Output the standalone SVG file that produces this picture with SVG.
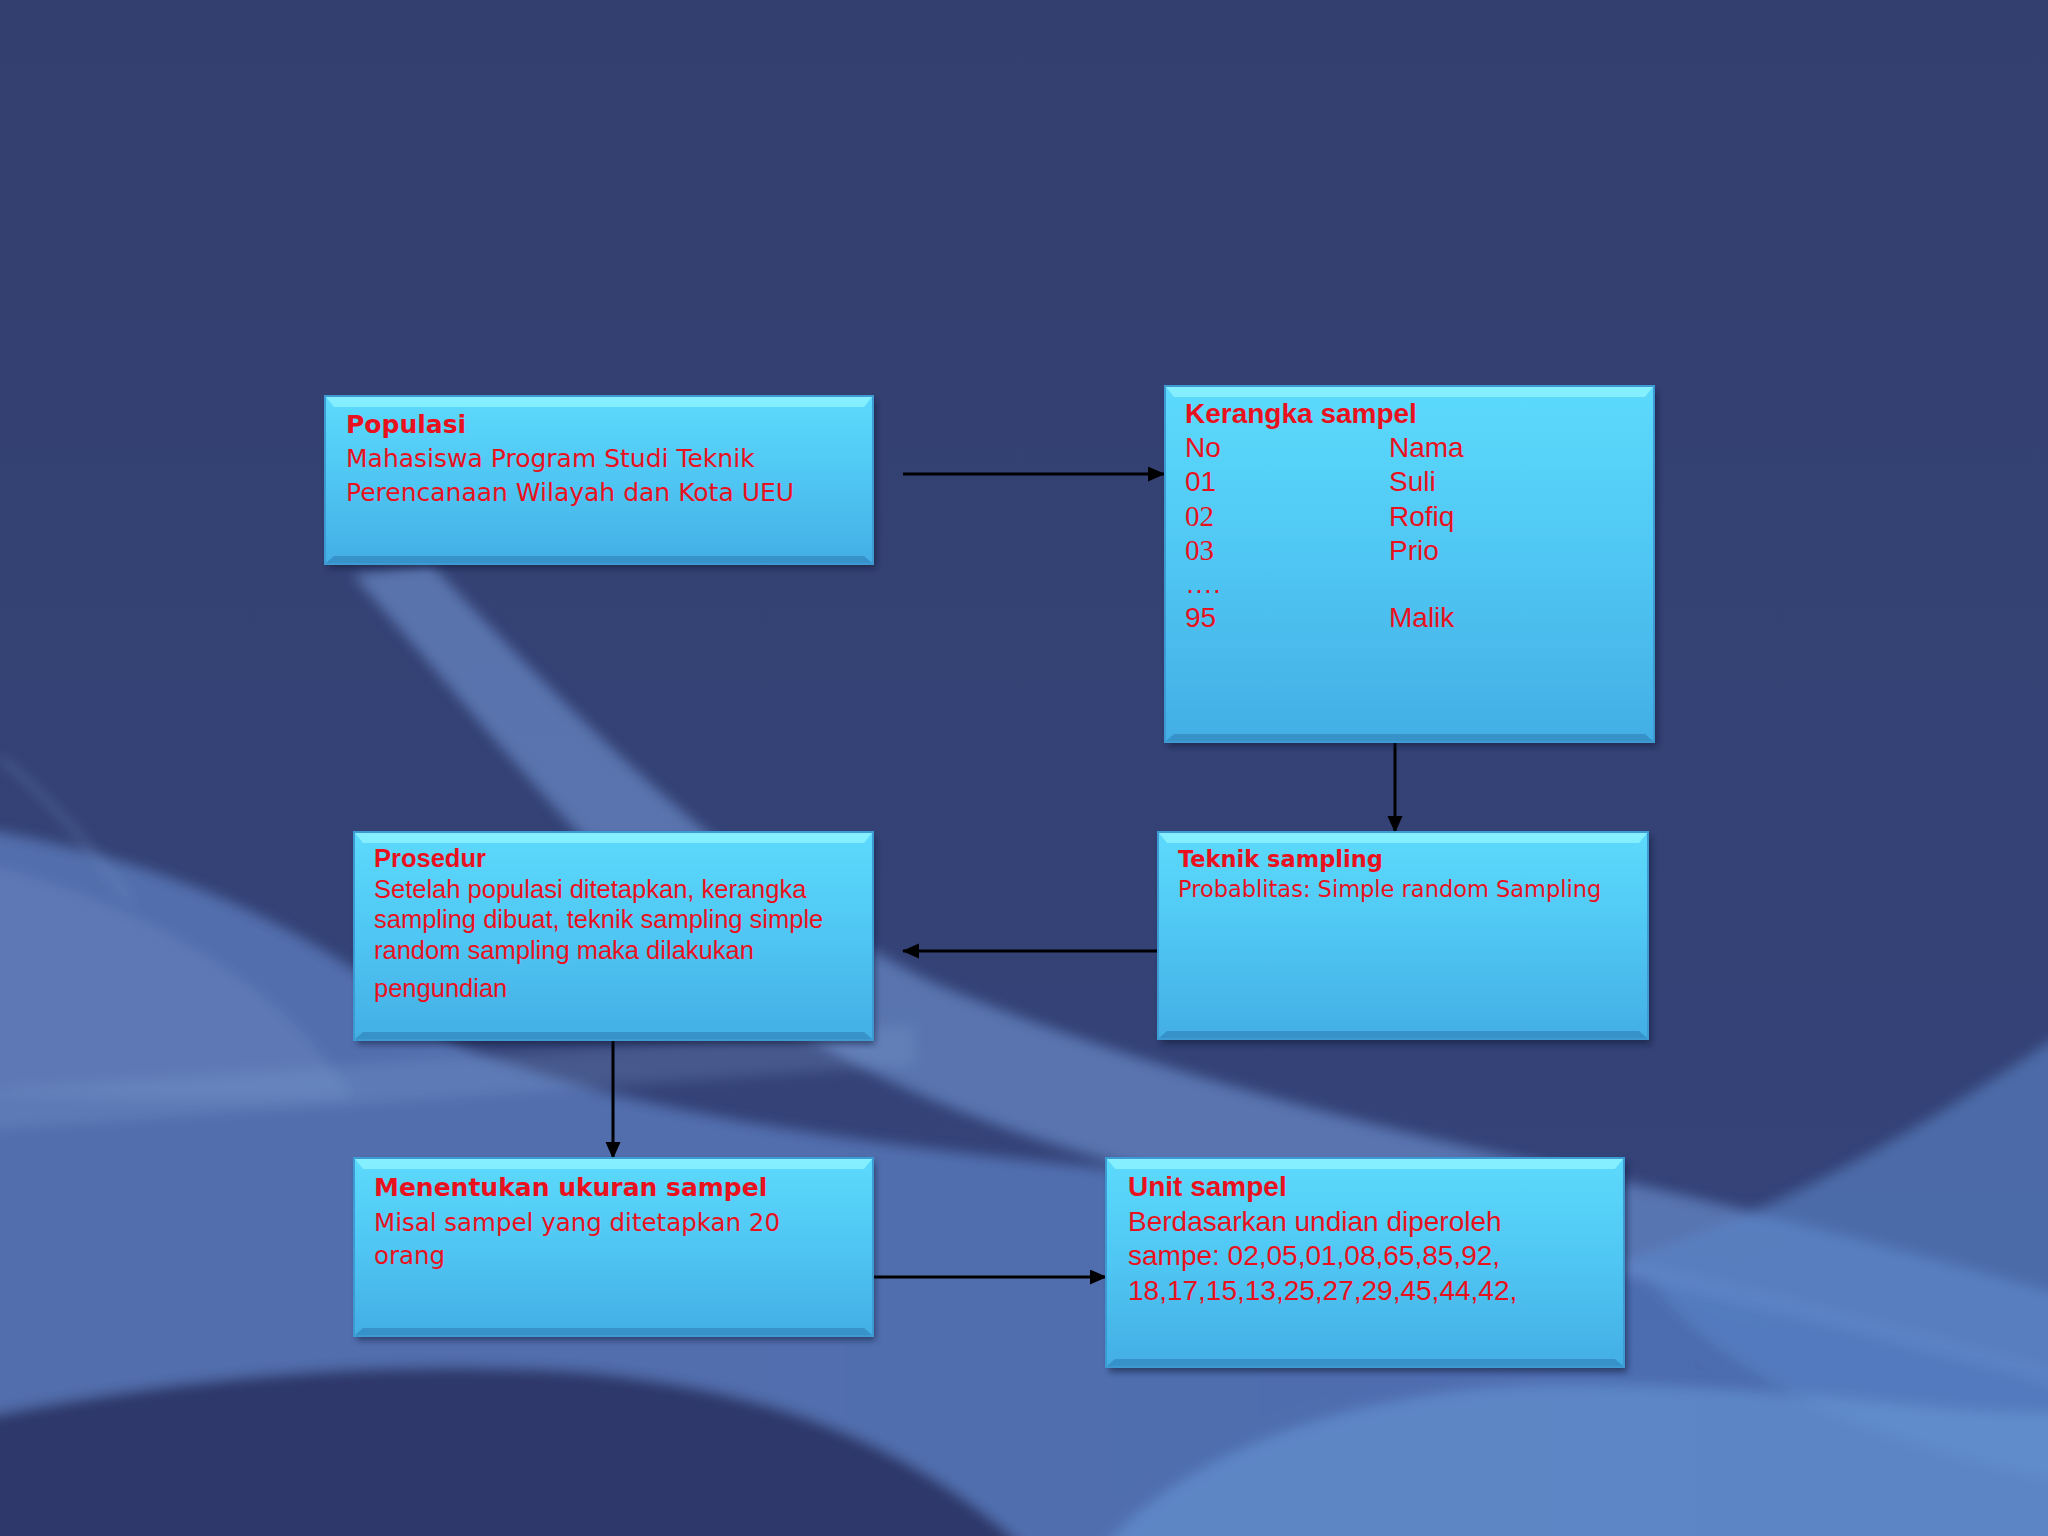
<svg xmlns="http://www.w3.org/2000/svg" width="2048" height="1536" viewBox="0 0 2048 1536">
<defs>
<linearGradient id="bg" x1="0" y1="0" x2="0" y2="1">
<stop offset="0" stop-color="#33406f"/>
<stop offset="1" stop-color="#34437a"/>
</linearGradient>
<linearGradient id="boxg" x1="0" y1="0" x2="0" y2="1">
<stop offset="0" stop-color="#5cdafc"/>
<stop offset="0.5" stop-color="#4fc6f3"/>
<stop offset="1" stop-color="#43aee4"/>
</linearGradient>
<linearGradient id="wA" x1="0" y1="0" x2="1" y2="0">
<stop offset="0" stop-color="#5673b2"/>
<stop offset="0.45" stop-color="#5473b4"/>
<stop offset="1" stop-color="#4e70b6"/>
</linearGradient>
<linearGradient id="wB" x1="0" y1="0" x2="1" y2="1">
<stop offset="0" stop-color="#6e8fcc"/>
<stop offset="1" stop-color="#6a90d0"/>
</linearGradient>
<filter id="soft" x="-10%" y="-10%" width="120%" height="120%">
<feGaussianBlur stdDeviation="5"/>
</filter>
<filter id="sh" x="-5%" y="-5%" width="110%" height="115%">
<feGaussianBlur stdDeviation="3"/>
</filter>
<marker id="ah" markerUnits="userSpaceOnUse" markerWidth="18" markerHeight="16" refX="16" refY="7.5" orient="auto">
<path d="M0,0 L17,7.5 L0,15 Z" fill="#000"/>
</marker>
<style>
.box{fill:url(#boxg);stroke:#3d9ad2;stroke-width:2}
.shadow{fill:#0a1230;opacity:0.55;filter:url(#sh)}
.bev{fill:#8cf2ff;opacity:0.85}
.bevb{fill:#3286bf;opacity:0.7}
.conn{stroke:#000;stroke-width:3;fill:none}
.t{fill:#e8111d}
.tah{font-family:"DejaVu Sans",Verdana,sans-serif}
.ari{font-family:"Liberation Sans",Arial,sans-serif}
.ser{font-family:"Liberation Serif","Times New Roman",serif}
.b{font-weight:bold}
</style>
</defs>
<rect width="2048" height="1536" fill="url(#bg)"/>
<g id="background" transform="scale(1.30612)" filter="url(#soft)">
<path d="M-40,630 C150,660 250,720 350,800 C500,860 700,880 900,900 C1100,930 1250,960 1610,1060 L1610,1220 L-40,1220 Z" fill="url(#wA)" opacity="0.9"/>
<path d="M330,432 C450,560 580,690 720,755 C840,805 1010,855 1200,895 C1350,928 1460,958 1610,1000 L1610,1070 C1420,1015 1210,965 1000,925 C800,885 640,825 550,745 C440,645 350,530 270,440 Z" fill="url(#wB)" opacity="0.65"/>
<path d="M-40,655 C120,690 220,760 270,840 C180,845 80,840 -40,835 Z" fill="#6a88c2" opacity="0.45"/>
<path d="M-40,852 C200,835 500,815 700,800" stroke="#8aa8dc" stroke-width="30" fill="none" opacity="0.22"/>
<path d="M1610,770 C1480,860 1370,925 1250,962 C1300,1040 1400,1100 1610,1140 Z" fill="#5a86c8" opacity="0.6"/>
<path d="M-40,1090 C150,1050 300,1040 450,1050 C600,1065 720,1110 820,1220 L-40,1220 Z" fill="#2d396a"/>
<path d="M820,1220 C880,1110 1050,1060 1200,1060 C1400,1060 1500,1090 1610,1080 L1610,1220 Z" fill="#6a9ad8" opacity="0.55"/>
<path d="M0,580 C40,612 70,650 100,690" stroke="#7a9ad0" stroke-width="2.5" fill="none" opacity="0.6"/>
</g>
<g id="connectors">
<line class="conn" x1="903" y1="474" x2="1164" y2="474" marker-end="url(#ah)"/>
<line class="conn" x1="1395" y1="743" x2="1395" y2="832" marker-end="url(#ah)"/>
<line class="conn" x1="1163" y1="951" x2="903" y2="951" marker-end="url(#ah)"/>
<line class="conn" x1="613" y1="1041" x2="613" y2="1158" marker-end="url(#ah)"/>
<line class="conn" x1="873" y1="1277" x2="1106" y2="1277" marker-end="url(#ah)"/>
</g>
<g id="populasi">
<rect class="shadow" x="328" y="400" width="548" height="168"/>
<rect class="box" x="325" y="396" width="548" height="168"/>
<path class="bev" d="M326,397 L872,397 L864,407 L334,407 Z"/>
<path class="bevb" d="M326,563 L872,563 L864,556 L334,556 Z"/>
<text class="t tah b" x="346" y="433" font-size="25">Populasi</text>
<text class="t tah" x="346" y="467" font-size="25">Mahasiswa Program Studi Teknik</text>
<text class="t tah" x="346" y="501" font-size="25">Perencanaan Wilayah dan Kota UEU</text>
</g>
<g id="kerangka">
<rect class="shadow" x="1168" y="391" width="489" height="355"/>
<rect class="box" x="1165" y="386" width="489" height="356"/>
<path class="bev" d="M1166,387 L1653,387 L1645,397 L1174,397 Z"/>
<path class="bevb" d="M1166,741 L1653,741 L1645,734 L1174,734 Z"/>
<text class="t ari b" x="1185" y="423" font-size="28">Kerangka sampel</text>
<text class="t ari" font-size="28">
<tspan x="1185" y="457">No</tspan><tspan x="1389" y="457">Nama</tspan>
<tspan x="1185" y="491">01</tspan><tspan x="1389" y="491">Suli</tspan>
<tspan x="1389" y="526">Rofiq</tspan>
<tspan x="1389" y="560">Prio</tspan>
<tspan x="1185" y="593">….</tspan>
<tspan x="1185" y="627">95</tspan><tspan x="1389" y="627">Malik</tspan>
</text>
<text class="t ser" font-size="29"><tspan x="1185" y="526">02</tspan><tspan x="1185" y="560">03</tspan></text>
</g>
<g id="prosedur">
<rect class="shadow" x="357" y="836" width="518" height="208"/>
<rect class="box" x="354" y="832" width="519" height="208"/>
<path class="bev" d="M355,833 L872,833 L864,843 L363,843 Z"/>
<path class="bevb" d="M355,1039 L872,1039 L864,1032 L363,1032 Z"/>
<text class="t ari b" x="374" y="867" font-size="25.5">Prosedur</text>
<text class="t ari" font-size="25.5">
<tspan x="374" y="898">Setelah populasi ditetapkan, kerangka</tspan>
<tspan x="374" y="928">sampling dibuat, teknik sampling simple</tspan>
<tspan x="374" y="959">random sampling maka dilakukan</tspan>
<tspan x="374" y="997">pengundian</tspan>
</text>
</g>
<g id="teknik">
<rect class="shadow" x="1161" y="836" width="490" height="208"/>
<rect class="box" x="1158" y="832" width="490" height="207"/>
<path class="bev" d="M1159,833 L1647,833 L1639,843 L1167,843 Z"/>
<path class="bevb" d="M1159,1038 L1647,1038 L1639,1031 L1167,1031 Z"/>
<text class="t tah b" x="1178" y="867" font-size="22.5">Teknik sampling</text>
<text class="t tah" x="1178" y="897" font-size="22.5">Probablitas: Simple random Sampling</text>
</g>
<g id="menentukan">
<rect class="shadow" x="357" y="1162" width="518" height="178"/>
<rect class="box" x="354" y="1158" width="519" height="178"/>
<path class="bev" d="M355,1159 L872,1159 L864,1169 L363,1169 Z"/>
<path class="bevb" d="M355,1335 L872,1335 L864,1328 L363,1328 Z"/>
<text class="t tah b" x="374" y="1196" font-size="25">Menentukan ukuran sampel</text>
<text class="t tah" x="374" y="1231" font-size="24.5">Misal sampel yang ditetapkan 20</text>
<text class="t tah" x="374" y="1264" font-size="24.5">orang</text>
</g>
<g id="unit">
<rect class="shadow" x="1109" y="1162" width="518" height="210"/>
<rect class="box" x="1106" y="1158" width="518" height="209"/>
<path class="bev" d="M1107,1159 L1623,1159 L1615,1169 L1115,1169 Z"/>
<path class="bevb" d="M1107,1366 L1623,1366 L1615,1359 L1115,1359 Z"/>
<text class="t ari b" x="1128" y="1196" font-size="28">Unit sampel</text>
<text class="t ari" font-size="28">
<tspan x="1128" y="1231">Berdasarkan undian diperoleh</tspan>
<tspan x="1128" y="1265">sampe: 02,05,01,08,65,85,92,</tspan>
<tspan x="1128" y="1300">18,17,15,13,25,27,29,45,44,42,</tspan>
</text>
</g>
</svg>
